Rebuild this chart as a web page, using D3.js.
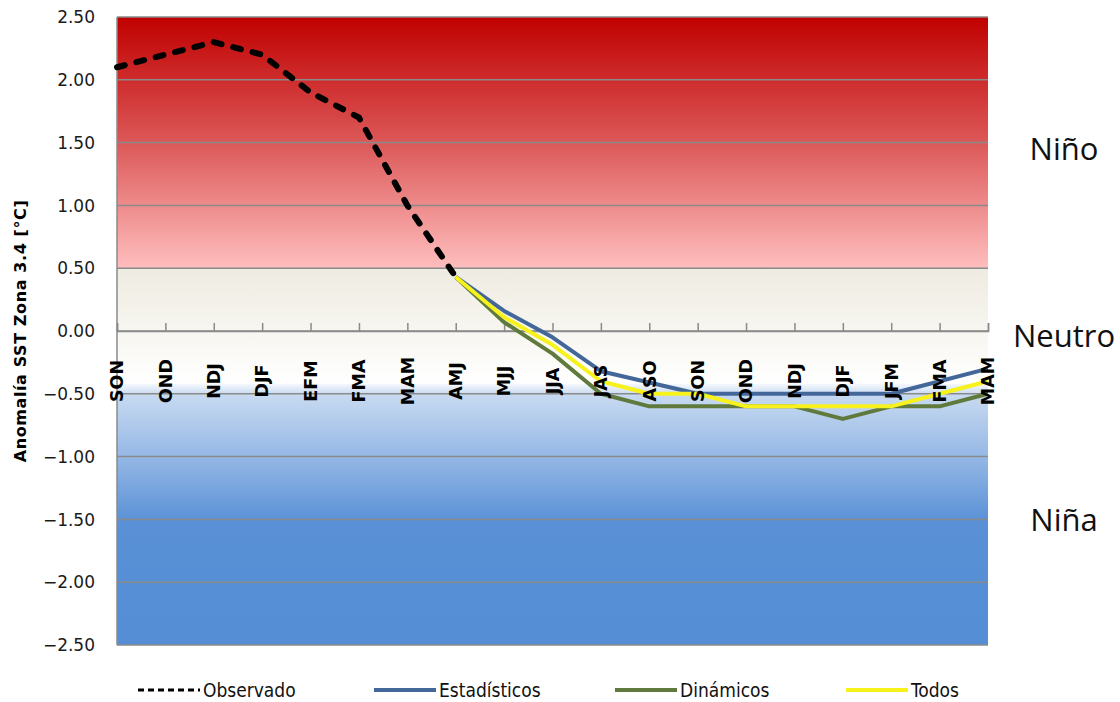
<!DOCTYPE html>
<html>
<head>
<meta charset="utf-8">
<script src="https://cdn.jsdelivr.net/npm/d3@7"></script>
<style>
  html, body { margin: 0; padding: 0; background: #fff; }
  svg { display: block; }
</style>
</head>
<body>
<svg id="chart" width="1120" height="702"></svg>
<script>
// data
const categories = ['SON','OND','NDJ','DJF','EFM','FMA','MAM','AMJ','MJJ','JJA','JAS','ASO','SON','OND','NDJ','DJF','JFM','FMA','MAM'];
const observado    = [2.1, 2.2, 2.3, 2.2, 1.9, 1.7, 1.0, 0.43, null, null, null, null, null, null, null, null, null, null, null];
const estadisticos = [null, null, null, null, null, null, null, 0.43, 0.16, -0.05, -0.32, -0.41, -0.5, -0.5, -0.5, -0.5, -0.5, -0.4, -0.3];
const dinamicos    = [null, null, null, null, null, null, null, 0.43, 0.07, -0.18, -0.5, -0.6, -0.6, -0.6, -0.6, -0.7, -0.6, -0.6, -0.5];
const todos        = [null, null, null, null, null, null, null, 0.43, 0.11, -0.11, -0.4, -0.5, -0.5, -0.6, -0.6, -0.6, -0.6, -0.5, -0.4];
const yTicks = [2.5, 2.0, 1.5, 1.0, 0.5, 0.0, -0.5, -1.0, -1.5, -2.0, -2.5];
const zones = [
  {name: 'Niño', y: 1.45},
  {name: 'Neutro', y: -0.04},
  {name: 'Niña', y: -1.5}
];

const series = [
  {name: 'Observado', values: observado, color: '#000', width: 6, dash: '8,12'},
  {name: 'Estadísticos', values: estadisticos, color: '#44679a', width: 4},
  {name: 'Dinámicos', values: dinamicos, color: '#5f7a3c', width: 4},
  {name: 'Todos', values: todos, color: '#f7f21c', width: 4}
];

const svg = d3.select('#chart');
const plotLeft = 117, plotRight = 988, plotTop = 17, plotBottom = 645;

const x = d3.scalePoint().domain(d3.range(categories.length)).range([plotLeft, plotRight]);
const y = d3.scaleLinear().domain([-2.5, 2.5]).range([plotBottom, plotTop]);

// background bands
const defs = svg.append('defs');
function grad(id, stops){
  const g = defs.append('linearGradient').attr('id', id)
    .attr('x1', 0).attr('y1', 0).attr('x2', 0).attr('y2', 1);
  stops.forEach(s => g.append('stop').attr('offset', s[0]).attr('stop-color', s[1]));
}
grad('gNino', [[0, '#c00000'], [0.5, '#dc5858'], [1, '#ffbebe']]);
grad('gNeutro', [[0, '#eeebe1'], [0.6, '#f8f7f2'], [1, '#ffffff']]);
grad('gNina', [[0, '#f6f9fd'], [0.04, '#c8daf1'], [0.28, '#95b8e5'], [0.53, '#5990d6'], [1, '#558ed5']]);

const bands = [
  {from: 2.5, to: 0.5, fill: 'url(#gNino)'},
  {from: 0.5, to: -0.42, fill: 'url(#gNeutro)'},
  {from: -0.42, to: -2.5, fill: 'url(#gNina)'}
];
svg.append('g').selectAll('rect').data(bands).join('rect')
  .attr('x', plotLeft).attr('width', plotRight - plotLeft)
  .attr('y', d => y(d.from)).attr('height', d => y(d.to) - y(d.from))
  .attr('fill', d => d.fill);

// gridlines
svg.append('g').selectAll('line').data(yTicks).join('line')
  .attr('x1', plotLeft).attr('x2', plotRight)
  .attr('y1', d => y(d)).attr('y2', d => y(d))
  .attr('stroke', '#8a8a8a').attr('stroke-width', 1.5);

// left axis
svg.append('line')
  .attr('x1', plotLeft).attr('x2', plotLeft).attr('y1', plotTop).attr('y2', plotBottom)
  .attr('stroke', '#8a8a8a').attr('stroke-width', 1.5);

svg.append('g').selectAll('text').data(yTicks).join('text')
  .attr('x', 95).attr('y', d => y(d)).attr('dy', '0.36em')
  .attr('text-anchor', 'end')
  .style('font', '17px "DejaVu Sans", sans-serif').attr('fill', '#1a1a1a')
  .text(d => d3.format('.2f')(d));

// x axis at zero with upward ticks
const xAxis = d3.axisTop(x).tickSize(8).tickFormat('');
const gx = svg.append('g').attr('transform', `translate(0,${y(0)})`).call(xAxis);
gx.select('.domain').attr('stroke', '#8a8a8a').attr('stroke-width', 1.5);
gx.selectAll('.tick line').attr('stroke', '#8a8a8a').attr('stroke-width', 1.5);

// series lines
const line = d3.line()
  .defined(d => d != null)
  .x((d, i) => x(i))
  .y(d => y(d));

const drawOrder = [series[1], series[2], series[3], series[0]];
svg.append('g').selectAll('path').data(drawOrder).join('path')
  .attr('d', d => line(d.values))
  .attr('fill', 'none')
  .attr('stroke', d => d.color)
  .attr('stroke-width', d => d.width)
  .attr('stroke-linejoin', 'round')
  .attr('stroke-linecap', d => d.dash ? 'round' : 'butt')
  .attr('stroke-dasharray', d => d.dash || null);

// category labels, rotated
svg.append('g').selectAll('text').data(categories).join('text')
  .attr('transform', (d, i) => `translate(${x(i)},381) rotate(-90)`)
  .attr('text-anchor', 'middle').attr('dy', '0.36em')
  .style('font', 'bold 17.5px "DejaVu Sans", sans-serif')
  .attr('fill', '#000')
  .text(d => d);

// y axis title
svg.append('text')
  .attr('transform', `translate(20,331) rotate(-90)`)
  .attr('text-anchor', 'middle').attr('dy', '0.36em')
  .style('font', 'bold 16px "DejaVu Sans", sans-serif')
  .style('letter-spacing', '0.6px')
  .attr('fill', '#000')
  .text('Anomalía SST Zona 3.4 [°C]');

// zone labels on the right
svg.append('g').selectAll('text').data(zones).join('text')
  .attr('x', 1064).attr('y', d => y(d.y)).attr('dy', '0.36em')
  .attr('text-anchor', 'middle')
  .style('font', '31px "Open Sans", sans-serif')
  .attr('fill', '#111')
  .text(d => d.name);

// legend
const legendX = [138, 374, 615, 846];
const leg = svg.append('g').selectAll('g').data(series).join('g')
  .attr('transform', (d, i) => `translate(${legendX[i]},690)`);
leg.append('line')
  .attr('x1', 0).attr('x2', 62).attr('y1', 0).attr('y2', 0)
  .attr('stroke', d => d.color)
  .attr('stroke-width', d => d.dash ? 3 : 4)
  .attr('stroke-dasharray', d => d.dash ? '6,4' : null);
leg.append('text')
  .attr('x', 65).attr('dy', '0.36em')
  .style('font', '19px "DejaVu Sans Condensed", "Liberation Sans Narrow", sans-serif')
  .attr('fill', '#111')
  .text(d => d.name);
</script>
</body>
</html>
